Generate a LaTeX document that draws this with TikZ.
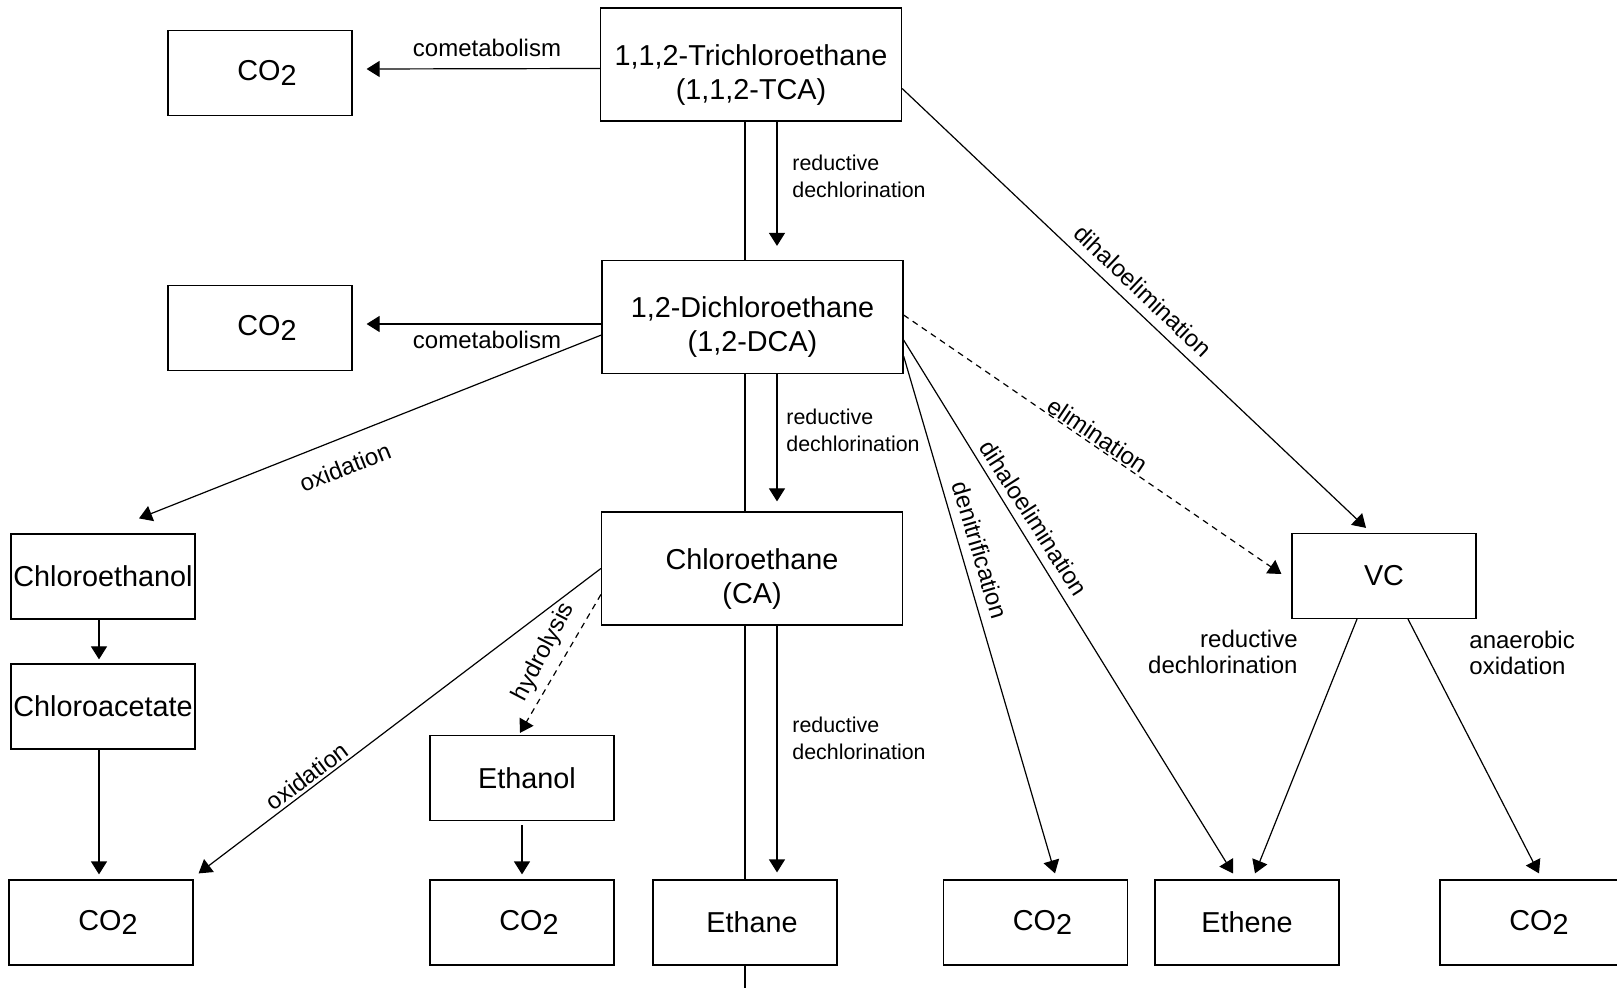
\documentclass[tikz,border=0pt]{standalone}
\usepackage{fontspec}
\setmainfont{Liberation Sans}
\usetikzlibrary{arrows.meta}
\tikzstyle{arr}=[-{Triangle[length=6.5pt,width=8pt]}]

\newcommand{\cotwo}{\hspace*{7pt}CO\raisebox{-2.2pt}{2}}
\newcommand{\topgap}{\rule{0pt}{20.7pt}}

\begin{document}
\begin{tikzpicture}[x=0.5pt,y=-0.5pt]
  \tikzstyle bx=[draw,fill=white,line width=0.6pt,inner sep=0pt,align=center,
    minimum width=92pt,minimum height=42.5pt,font=\fontsize{14.4}{17}\selectfont];
  \tikzstyle big=[bx,minimum width=150.5pt,minimum height=56.5pt];
  \tikzstyle ln=[arr,line width=0.6pt];
  \tikzstyle dsh=[ln,dashed,dash pattern=on 3pt off 2.5pt];
  \tikzstyle spine=[line width=1.4pt];
  \tikzstyle lb=[inner sep=0pt,align=left,font=\fontsize{12}{13.4}\selectfont];
  \tikzstyle sm=[lb,font=\fontsize{10.7}{13.4}\selectfont];

  \useasboundingbox (0,0) rectangle (1617,988);

  % columns of the main chain
  \coordinate (axis) at (745,988);
  \coordinate (rd) at (777,0);

  % chlorinated ethanes
  \node[big] (tca) at (751,64.5) {\topgap 1,1,2-Trichloroethane\\(1,1,2-TCA)};
  \node[big] (dca) at (752.5,317) {\topgap 1,2-Dichloroethane\\(1,2-DCA)};
  \node[big] (ca) at (752,568.5) {\topgap Chloroethane\\(CA)};

  % products
  \node[bx] (co2a) at (260,73) {\cotwo};
  \node[bx] (co2b) at (260,328) {\cotwo};
  \node[bx] (cleth) at (103,576.5) {Chloroethanol};
  \node[bx] (clac) at (103,706.5) {Chloroacetate};
  \node[bx] (co2c) at (101,922.5) {\cotwo};
  \node[bx] (etoh) at (522,778) {\hspace*{5pt}Ethanol};
  \node[bx] (co2d) at (522,922.5) {\cotwo};
  \node[bx] (ethane) at (745,922.5) {\hspace*{7pt}Ethane};
  \node[bx] (vc) at (1384,576) {VC};
  \node[bx] (co2e) at (1035.5,922.5) {\cotwo};
  \node[bx] (ethene) at (1247,922.5) {Ethene};
  \node[bx] (co2f) at (1532,922.5) {\cotwo};

  % thick spine through the chain
  \draw[spine] (tca.south -| axis) -- (dca.north -| axis);
  \draw[spine] (dca.south -| axis) -- (ca.north -| axis);
  \draw[spine] (ca.south -| axis) -- (ethane.north -| axis);
  \draw[spine] (ethane.south -| axis) -- (axis);

  % reductive dechlorination steps
  \draw[ln,shorten >=7pt] (tca.south -| rd) -- (dca.north -| rd);
  \draw[ln,shorten >=5pt] (dca.south -| rd) -- (ca.north -| rd);
  \draw[ln,shorten >=3.5pt] (ca.south -| rd) -- (ethane.north -| rd);

  % left branches
  \draw[ln] ([yshift=-2pt]tca.west) -- ([xshift=7pt,yshift=2pt]co2a.east);
  \draw[ln] ([yshift=-3.5pt]dca.west) -- ([xshift=7pt,yshift=2pt]co2b.east);
  \draw[ln] ([yshift=-9pt]dca.west) -- ([xshift=18pt,yshift=7.5pt]cleth.north);
  \draw[ln,shorten >=2pt] ([xshift=-2pt]cleth.south) -- ([xshift=-2pt]clac.north);
  \draw[ln,shorten >=2.5pt] ([xshift=-2pt]clac.south) -- ([xshift=-2pt]clac.south |- co2c.north);
  \draw[ln] (ca.west) -- ([xshift=2.5pt,yshift=3pt]co2c.north east);
  \draw[dsh] ([yshift=-13pt]ca.west) -- ([xshift=-1pt,yshift=1pt]etoh.north);
  \draw[ln,shorten <=2pt,shorten >=2.5pt] (etoh.south) -- (co2d.north);

  % right branches
  \draw[ln] ([yshift=-12pt]tca.east) -- ([xshift=-9pt,yshift=2.5pt]vc.north);
  \draw[dsh] ([yshift=1pt]dca.east) -- ([xshift=-5pt,yshift=1pt]vc.west);
  \draw[ln] ([yshift=-11.5pt]dca.east) -- ([xshift=-7pt,yshift=3pt]ethene.north);
  \draw[ln] ([yshift=-19.5pt]dca.east) -- ([xshift=9.75pt,yshift=3pt]co2e.north);
  \draw[ln] ([xshift=-13.5pt]vc.south) -- ([xshift=4pt,yshift=3pt]ethene.north);
  \draw[ln] ([xshift=12pt]vc.south) -- ([xshift=3.5pt,yshift=3pt]co2f.north);

  % pathway labels
  \node[lb] (t1) at (487,48) {cometabolism};
  \node[lb] (t2) at (487,340) {cometabolism};
  \node[lb,rotate=21.6] (t3) at (345,467) {oxidation};
  \node[lb,rotate=36.9] (t4) at (307,776) {oxidation};
  \node[lb,rotate=62.6] (t5) at (544,652) {hydrolysis};
  \node[sm,anchor=west] (t6) at (792,176.5) {reductive\\dechlorination};
  \node[sm,anchor=west] (t7) at (786,430) {reductive\\dechlorination};
  \node[sm,anchor=west] (t8) at (792,738) {reductive\\dechlorination};
  \node[lb,rotate=-43.4] (t9) at (1143,291) {dihaloelimination};
  \node[lb,rotate=-33.9] (t10) at (1098,435) {elimination};
  \node[lb,rotate=-57.3] (t11) at (1034,518) {dihaloelimination};
  \node[lb,rotate=-73.4] (t12) at (980,550) {denitrification};
  \node[lb,anchor=east,align=right] (t13) at (1298,652) {reductive\\dechlorination};
  \node[lb,anchor=west] (t14) at (1469,653) {anaerobic\\oxidation};
\end{tikzpicture}
\end{document}
